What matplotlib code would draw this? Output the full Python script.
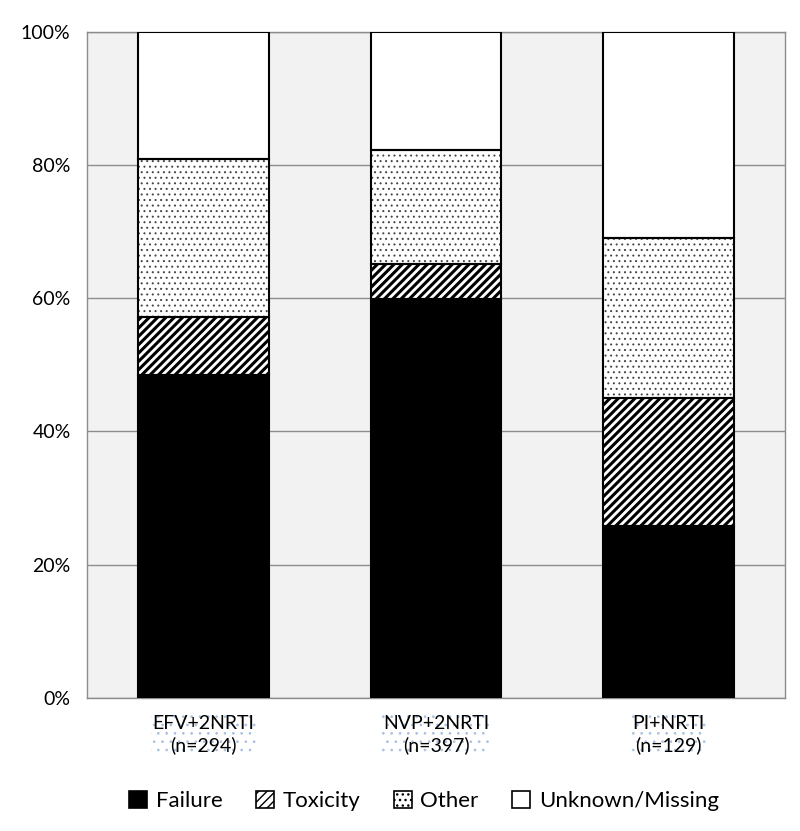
import numpy as np
import matplotlib as mpl
import matplotlib.pyplot as plt
from matplotlib.patches import Patch

plt.rcParams['font.family'] = ['Lato', 'DejaVu Sans']

categories = ['EFV+2NRTI\n(n=294)', 'NVP+2NRTI\n(n=397)', 'PI+NRTI\n(n=129)']
failure = [48.5, 59.9, 25.8]
toxicity = [8.7, 5.3, 19.2]
other = [23.7, 17.1, 24.1]
unknown = [19.1, 17.7, 30.9]

# name, values, face, hatch, hatch colour, hatch width
series = [
    ('Failure', failure, 'black', None, 'black', 1.0),
    ('Toxicity', toxicity, 'white', '////', 'black', 2.2),
    ('Other', other, 'white', '...', '#444444', 0.7),
    ('Unknown/Missing', unknown, 'white', None, 'black', 1.0),
]

fig = plt.figure(figsize=(8, 8.31), dpi=100)
ax = fig.add_axes([0.109, 0.16, 0.872, 0.802])
ax.set_facecolor('#f2f2f2')

x = np.arange(len(categories))
bottom = np.zeros(len(categories))
handles = []
for name, vals, color, hatch, hcol, hlw in series:
    with mpl.rc_context({'hatch.linewidth': hlw}):
        ax.bar(x, vals, 0.563, bottom=bottom, color=color, hatch=hatch,
               edgecolor=hcol, linewidth=0, zorder=3)
        handles.append(Patch(facecolor=color, hatch=hatch, edgecolor='black',
                             linewidth=1.2, label=name))
    ax.bar(x, vals, 0.563, bottom=bottom, fill=False,
           edgecolor='black', linewidth=1.5, zorder=4)
    bottom += np.array(vals)

ax.set_xlim(-0.5, 2.5)
ax.set_ylim(0, 100)
ax.set_yticks(np.arange(0, 101, 20))
ax.set_yticklabels([f'{v}%' for v in range(0, 101, 20)], fontsize=14)
ax.yaxis.grid(True, color='#8c8c8c', linewidth=1, zorder=0)
ax.tick_params(length=0, pad=12)
ax.set_xticks(x)
ax.set_xticklabels(categories, fontsize=14, linespacing=1.3)
with mpl.rc_context({'hatch.linewidth': 0.7}):
    for lab in ax.get_xticklabels():
        lab.set_bbox(dict(facecolor='none', edgecolor='#a9c1e0', linewidth=0,
                          hatch='..', pad=1))
for s in ax.spines.values():
    s.set_color('#8c8c8c')
    s.set_linewidth(1)

fig.legend(handles=handles, loc='lower center', ncol=4, frameon=False,
           fontsize=16, bbox_to_anchor=(0.53, 0.0), handlelength=0.8,
           handleheight=0.8, handletextpad=0.4, columnspacing=1.5)

fig.savefig('out.png', dpi=100)
